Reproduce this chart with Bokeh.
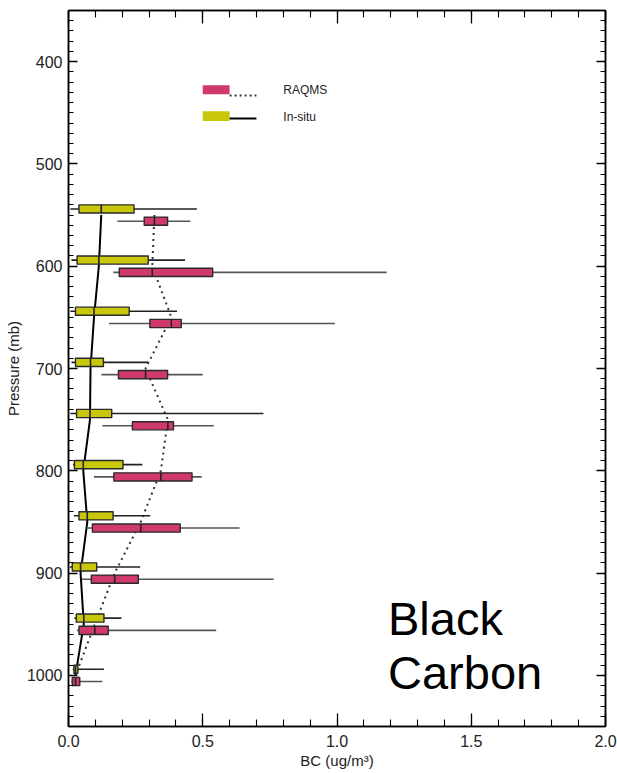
from bokeh.plotting import figure
from bokeh.models import Range1d, LinearAxis, SingleIntervalTicker, ColumnDataSource
from bokeh.core.properties import value
from bokeh.embed import file_html
from bokeh.resources import INLINE

# ---------------- data ----------------
levels = [550, 600, 650, 700, 750, 800, 850, 900, 950, 1000]

insitu_wlo = [0.007, 0.011, 0.007, 0.011, 0.007, 0.017, 0.020, 0.005, 0.022, 0.016]
insitu_q1  = [0.039, 0.032, 0.026, 0.026, 0.030, 0.022, 0.039, 0.014, 0.029, 0.020]
insitu_med = [0.122, 0.113, 0.095, 0.082, 0.080, 0.055, 0.070, 0.045, 0.057, 0.026]
insitu_q3  = [0.244, 0.297, 0.226, 0.130, 0.161, 0.203, 0.166, 0.105, 0.132, 0.035]
insitu_whi = [0.478, 0.434, 0.404, 0.298, 0.726, 0.275, 0.304, 0.267, 0.197, 0.132]

raqms_wlo = [0.182, 0.167, 0.151, 0.123, 0.126, 0.095, 0.067, 0.050, 0.032, 0.010]
raqms_q1  = [0.282, 0.189, 0.303, 0.186, 0.238, 0.169, 0.089, 0.085, 0.039, 0.014]
raqms_med = [0.320, 0.312, 0.383, 0.287, 0.370, 0.344, 0.269, 0.172, 0.098, 0.026]
raqms_q3  = [0.369, 0.537, 0.420, 0.369, 0.391, 0.460, 0.416, 0.260, 0.148, 0.042]
raqms_whi = [0.454, 1.185, 0.992, 0.500, 0.541, 0.496, 0.637, 0.764, 0.550, 0.126]

x_ticks = [0.0, 0.5, 1.0, 1.5, 2.0]
y_ticks = [400, 500, 600, 700, 800, 900, 1000]
legend_names = ["RAQMS", "In-situ"]

# ---------------- style ----------------
PINK = "#d03a6b"
YELLOW = "#c9c70b"
OFFSET = 6.0      # mb offset of each box from its level
BOX_H = 8.0       # box thickness in mb
FONT = "Liberation Sans"

p = figure(width=617, height=773, output_backend="svg", toolbar_location=None,
           x_range=Range1d(0, 2.0), y_range=Range1d(1050, 350),
           min_border_left=68, min_border_right=12, min_border_top=10,
           min_border_bottom=47)
p.outline_line_color = "black"
p.outline_line_width = 1.5
p.grid.visible = False
p.background_fill_color = "white"
p.border_fill_color = "white"

def style_axis(ax, tick_major, tick_minor):
    ax.axis_line_color = "black"
    ax.axis_line_width = 1.5
    ax.major_tick_line_color = "black"
    ax.minor_tick_line_color = "black"
    ax.major_tick_line_width = 1.3
    ax.minor_tick_line_width = 1.1
    ax.major_tick_in = tick_major
    ax.major_tick_out = 0
    ax.minor_tick_in = tick_minor
    ax.minor_tick_out = 0
    ax.major_label_text_font = FONT
    ax.major_label_text_color = "#222222"

p.xaxis.ticker = SingleIntervalTicker(interval=0.5, num_minor_ticks=5)
p.yaxis.ticker = SingleIntervalTicker(interval=100, num_minor_ticks=10)
p.xaxis.major_label_overrides = {t: f"{t:.1f}" for t in x_ticks}
p.yaxis.major_label_overrides = {t: str(t) for t in y_ticks}
style_axis(p.xaxis[0], 13, 7)
style_axis(p.yaxis[0], 9, 5)
p.xaxis.major_label_text_font_size = "16px"
p.yaxis.major_label_text_font_size = "16px"
p.xaxis.major_label_standoff = 8
p.yaxis.major_label_standoff = 6
p.xaxis.axis_label = "BC (ug/m³)"
p.yaxis.axis_label = "Pressure (mb)"
for ax in (p.xaxis[0], p.yaxis[0]):
    ax.axis_label_text_font = FONT
    ax.axis_label_text_font_style = "normal"
    ax.axis_label_text_font_size = "15px"
    ax.axis_label_text_color = "#222222"
    ax.axis_label_standoff = 2

# tick-only frame axes on top and right (no labels)
top_ax = LinearAxis(ticker=SingleIntervalTicker(interval=0.5, num_minor_ticks=5))
style_axis(top_ax, 13, 7)
top_ax.major_label_text_font_size = "0px"
top_ax.major_label_standoff = 0
top_ax.major_label_overrides = {t: "" for t in x_ticks}
p.add_layout(top_ax, "above")
right_ax = LinearAxis(ticker=SingleIntervalTicker(interval=100, num_minor_ticks=10))
style_axis(right_ax, 9, 5)
right_ax.major_label_text_font_size = "0px"
right_ax.major_label_standoff = 0
right_ax.major_label_overrides = {t: "" for t in y_ticks}
p.add_layout(right_ax, "right")

# ---------------- median profiles ----------------
p.line(insitu_med, levels, line_color="black", line_width=2)
p.line(raqms_med, levels, line_color="#333333", line_width=2, line_dash="2 4")

# ---------------- box plots ----------------
def boxes(wlo, q1, med, q3, whi, off, color, wcolor):
    ys = [lv + off for lv in levels]
    src = ColumnDataSource(dict(y=ys, wlo=wlo, q1=q1, med=med, q3=q3, whi=whi,
                                y0=[y - BOX_H / 2 for y in ys],
                                y1=[y + BOX_H / 2 for y in ys]))
    p.segment(x0="wlo", y0="y", x1="whi", y1="y", source=src,
              line_color=wcolor, line_width=1.6)
    p.hbar(y="y", left="q1", right="q3", height=BOX_H, source=src,
           fill_color=color, line_color="#2a2a2a", line_width=1.4,
           line_join="round")
    p.segment(x0="med", y0="y0", x1="med", y1="y1", source=src,
              line_color="#222222", line_width=1.6)

boxes(insitu_wlo, insitu_q1, insitu_med, insitu_q3, insitu_whi, -OFFSET, YELLOW, "#222222")
boxes(raqms_wlo, raqms_q1, raqms_med, raqms_q3, raqms_whi, OFFSET, PINK, "#555555")

# ---------------- legend (drawn manually) ----------------
p.quad(left=[0.50], right=[0.60], top=[423], bottom=[432], fill_color=PINK, line_color=None)
p.segment(x0=[0.60], y0=[433], x1=[0.70], y1=[433], line_color="#333333",
          line_width=2, line_dash="2 3")
p.quad(left=[0.50], right=[0.60], top=[448.5], bottom=[458], fill_color=YELLOW, line_color=None)
p.segment(x0=[0.60], y0=[455.5], x1=[0.70], y1=[455.5], line_color="black", line_width=2)
p.text(x=[0.80, 0.80], y=[428, 454], text=legend_names, text_font=value(FONT),
       text_font_size="12px", text_baseline="middle", text_align="left",
       text_color="#222222")

# ---------------- annotation ----------------
p.text(x=[1.19, 1.19], y=[944, 997], text=["Black", "Carbon"], text_font=value(FONT),
       text_font_size="47px", text_baseline="alphabetic", text_align="left",
       text_color="black")

open("out.html", "w").write(file_html(p, INLINE))
